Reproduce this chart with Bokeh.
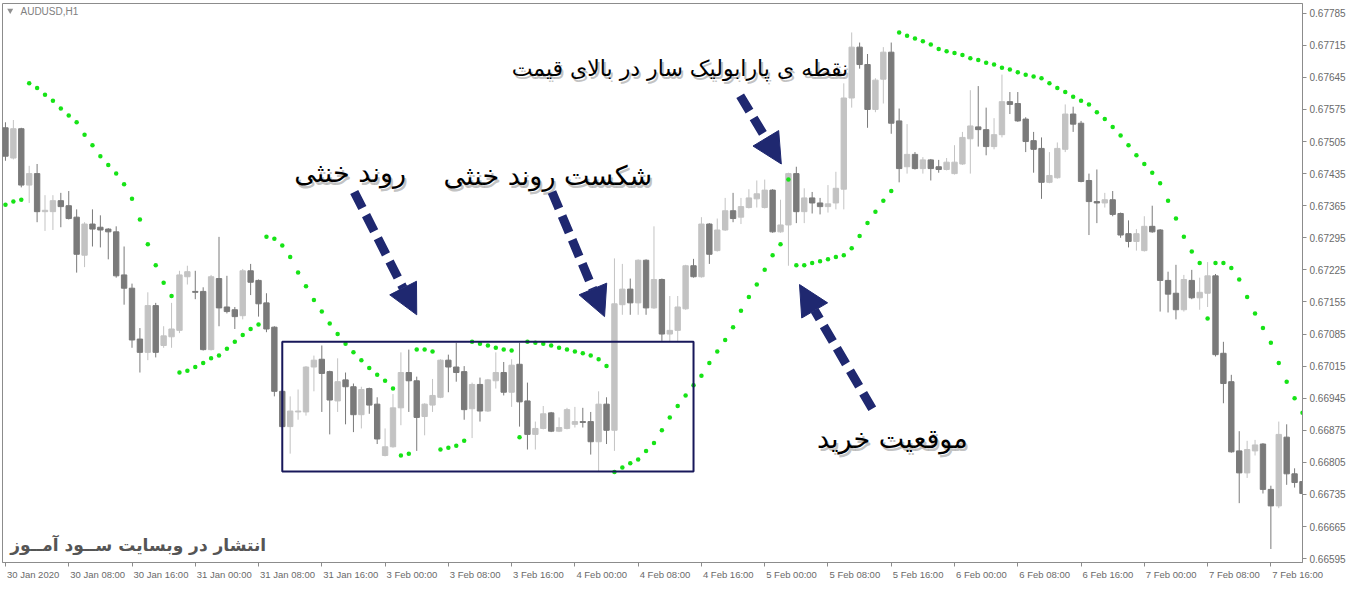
from bokeh.plotting import figure
from bokeh.models import (ColumnDataSource, Range1d, FixedTicker, NumeralTickFormatter,
                          Arrow, NormalHead, BoxAnnotation, LinearAxis)
from bokeh.embed import file_html
from bokeh.resources import INLINE
from bokeh.core.properties import value

# ---------------- data (AUDUSD, H1) ----------------
open_ = [
    0.67535, 0.67469, 0.67533, 0.67410, 0.67435, 0.67352, 0.67352, 0.67376, 0.67365, 0.67340,
    0.67257, 0.67325, 0.67318, 0.67314, 0.67308, 0.67214, 0.67185, 0.67074, 0.67045, 0.67147,
    0.67060, 0.67079, 0.67093, 0.67210, 0.67178, 0.67178, 0.67051, 0.67206, 0.67144, 0.67138,
    0.67125, 0.67223, 0.67202, 0.67153, 0.67100, 0.66960, 0.66883, 0.66915, 0.66915, 0.67013,
    0.67030, 0.67003, 0.66939, 0.66985, 0.66970, 0.66909, 0.66966, 0.66932, 0.66820, 0.66839,
    0.66924, 0.67001, 0.66983, 0.66905, 0.66930, 0.66947, 0.67028, 0.67013, 0.67003, 0.66922,
    0.66975, 0.66917, 0.66983, 0.67001, 0.66958, 0.67019, 0.66939, 0.66866, 0.66879, 0.66913,
    0.66873, 0.66879, 0.66888, 0.66894, 0.66894, 0.66850, 0.66932, 0.66875, 0.67149, 0.67183,
    0.67153, 0.67246, 0.67142, 0.67204, 0.67085, 0.67093, 0.67140, 0.67234, 0.67210, 0.67325,
    0.67267, 0.67312, 0.67354, 0.67340, 0.67361, 0.67380, 0.67361, 0.67399, 0.67308, 0.67323,
    0.67435, 0.67352, 0.67382, 0.67371, 0.67363, 0.67371, 0.67401, 0.67600, 0.67711, 0.67673,
    0.67575, 0.67641, 0.67700, 0.67550, 0.67450, 0.67477, 0.67446, 0.67465, 0.67450, 0.67444,
    0.67435, 0.67456, 0.67511, 0.67537, 0.67531, 0.67494, 0.67520, 0.67592, 0.67588, 0.67554,
    0.67507, 0.67490, 0.67416, 0.67426, 0.67488, 0.67565, 0.67545, 0.67420, 0.67374, 0.67371,
    0.67378, 0.67348, 0.67304, 0.67287, 0.67267, 0.67320, 0.67312, 0.67202, 0.67174, 0.67138,
    0.67202, 0.67164, 0.67174, 0.67212, 0.67043, 0.66981, 0.66830, 0.66782, 0.66830, 0.66845,
    0.66746, 0.66710, 0.66860, 0.66780, 0.66763,
]
high = [
    0.67547, 0.67552, 0.67535, 0.67452, 0.67456, 0.67388, 0.67388, 0.67393, 0.67397, 0.67357,
    0.67329, 0.67357, 0.67344, 0.67316, 0.67320, 0.67276, 0.67195, 0.67098, 0.67176, 0.67153,
    0.67102, 0.67153, 0.67223, 0.67234, 0.67223, 0.67187, 0.67214, 0.67297, 0.67212, 0.67144,
    0.67227, 0.67238, 0.67204, 0.67174, 0.67102, 0.66964, 0.66949, 0.66964, 0.67015, 0.67038,
    0.67060, 0.67005, 0.67032, 0.67001, 0.66977, 0.66970, 0.66968, 0.66947, 0.66879, 0.66954,
    0.67045, 0.67051, 0.66992, 0.66934, 0.66987, 0.67030, 0.67040, 0.67066, 0.67015, 0.66979,
    0.66990, 0.66987, 0.67045, 0.67024, 0.67030, 0.67066, 0.66979, 0.66894, 0.66928, 0.66915,
    0.66903, 0.66924, 0.66926, 0.66924, 0.66915, 0.66960, 0.66947, 0.67250, 0.67238, 0.67206,
    0.67248, 0.67248, 0.67320, 0.67206, 0.67168, 0.67168, 0.67236, 0.67249, 0.67340, 0.67327,
    0.67337, 0.67382, 0.67393, 0.67382, 0.67401, 0.67420, 0.67422, 0.67401, 0.67378, 0.67437,
    0.67450, 0.67403, 0.67395, 0.67382, 0.67410, 0.67439, 0.67632, 0.67743, 0.67721, 0.67696,
    0.67643, 0.67711, 0.67721, 0.67577, 0.67543, 0.67482, 0.67471, 0.67467, 0.67465, 0.67469,
    0.67497, 0.67526, 0.67617, 0.67626, 0.67579, 0.67556, 0.67651, 0.67613, 0.67613, 0.67558,
    0.67526, 0.67514, 0.67482, 0.67503, 0.67586, 0.67581, 0.67550, 0.67435, 0.67444, 0.67393,
    0.67397, 0.67350, 0.67333, 0.67314, 0.67342, 0.67365, 0.67314, 0.67221, 0.67236, 0.67214,
    0.67225, 0.67208, 0.67242, 0.67216, 0.67068, 0.66996, 0.66873, 0.66852, 0.66854, 0.66847,
    0.66754, 0.66894, 0.66888, 0.66792, 0.66809,
]
low = [
    0.67463, 0.67466, 0.67405, 0.67371, 0.67329, 0.67310, 0.67312, 0.67318, 0.67335, 0.67219,
    0.67231, 0.67276, 0.67274, 0.67248, 0.67208, 0.67149, 0.67055, 0.67001, 0.67028, 0.67034,
    0.67055, 0.67055, 0.67087, 0.67193, 0.67161, 0.67049, 0.67049, 0.67102, 0.67130, 0.67096,
    0.67117, 0.67170, 0.67123, 0.67089, 0.66949, 0.66879, 0.66824, 0.66898, 0.66907, 0.66960,
    0.66915, 0.66866, 0.66915, 0.66888, 0.66871, 0.66879, 0.66911, 0.66845, 0.66818, 0.66837,
    0.66886, 0.66915, 0.66830, 0.66864, 0.66915, 0.66945, 0.66958, 0.66981, 0.66898, 0.66858,
    0.66894, 0.66915, 0.66966, 0.66951, 0.66926, 0.66883, 0.66833, 0.66833, 0.66877, 0.66871,
    0.66871, 0.66877, 0.66881, 0.66881, 0.66822, 0.66784, 0.66845, 0.66830, 0.67127, 0.67127,
    0.67127, 0.67127, 0.67140, 0.67070, 0.67070, 0.67070, 0.67138, 0.67208, 0.67208, 0.67238,
    0.67265, 0.67310, 0.67329, 0.67325, 0.67359, 0.67361, 0.67359, 0.67306, 0.67306, 0.67234,
    0.67327, 0.67327, 0.67348, 0.67346, 0.67350, 0.67357, 0.67357, 0.67579, 0.67664, 0.67535,
    0.67569, 0.67588, 0.67522, 0.67416, 0.67435, 0.67444, 0.67435, 0.67420, 0.67437, 0.67442,
    0.67433, 0.67454, 0.67435, 0.67494, 0.67475, 0.67488, 0.67514, 0.67565, 0.67548, 0.67482,
    0.67437, 0.67380, 0.67414, 0.67424, 0.67482, 0.67526, 0.67416, 0.67301, 0.67327, 0.67361,
    0.67342, 0.67295, 0.67274, 0.67267, 0.67265, 0.67306, 0.67134, 0.67132, 0.67117, 0.67134,
    0.67161, 0.67138, 0.67144, 0.67036, 0.66934, 0.66826, 0.66716, 0.66771, 0.66820, 0.66737,
    0.66616, 0.66705, 0.66756, 0.66750, 0.66735,
]
close = [
    0.67473, 0.67533, 0.67410, 0.67435, 0.67352, 0.67355, 0.67376, 0.67363, 0.67337, 0.67259,
    0.67325, 0.67314, 0.67312, 0.67308, 0.67212, 0.67185, 0.67072, 0.67045, 0.67147, 0.67045,
    0.67081, 0.67096, 0.67214, 0.67221, 0.67176, 0.67051, 0.67210, 0.67142, 0.67134, 0.67123,
    0.67223, 0.67198, 0.67151, 0.67096, 0.66960, 0.66883, 0.66917, 0.66917, 0.67013, 0.67028,
    0.66999, 0.66941, 0.66981, 0.66970, 0.66909, 0.66964, 0.66930, 0.66856, 0.66839, 0.66924,
    0.67001, 0.66983, 0.66903, 0.66932, 0.66951, 0.67028, 0.67013, 0.67001, 0.66920, 0.66975,
    0.66917, 0.66985, 0.67001, 0.66958, 0.67017, 0.66937, 0.66866, 0.66879, 0.66911, 0.66873,
    0.66881, 0.66920, 0.66894, 0.66892, 0.66850, 0.66932, 0.66875, 0.67151, 0.67183, 0.67153,
    0.67246, 0.67142, 0.67204, 0.67085, 0.67093, 0.67144, 0.67234, 0.67210, 0.67325, 0.67259,
    0.67312, 0.67354, 0.67337, 0.67363, 0.67382, 0.67391, 0.67399, 0.67308, 0.67323, 0.67435,
    0.67352, 0.67382, 0.67371, 0.67363, 0.67369, 0.67403, 0.67600, 0.67711, 0.67673, 0.67575,
    0.67639, 0.67700, 0.67545, 0.67446, 0.67477, 0.67446, 0.67465, 0.67446, 0.67444, 0.67460,
    0.67460, 0.67514, 0.67539, 0.67531, 0.67494, 0.67520, 0.67592, 0.67586, 0.67550, 0.67505,
    0.67488, 0.67416, 0.67431, 0.67490, 0.67565, 0.67543, 0.67418, 0.67374, 0.67371, 0.67378,
    0.67346, 0.67301, 0.67287, 0.67304, 0.67320, 0.67308, 0.67202, 0.67172, 0.67138, 0.67204,
    0.67164, 0.67176, 0.67212, 0.67040, 0.66977, 0.66828, 0.66782, 0.66833, 0.66843, 0.66746,
    0.66710, 0.66866, 0.66780, 0.66761, 0.66737,
]
# Parabolic SAR value at each bar
sar = [
    0.67367, 0.67374, 0.67378, 0.67632, 0.67622, 0.67607, 0.67594, 0.67577, 0.67562, 0.67547,
    0.67520, 0.67497, 0.67473, 0.67454, 0.67435, 0.67412, 0.67380, 0.67335, 0.67281, 0.67235,
    0.67197, 0.67168, 0.67001, 0.67005, 0.67013, 0.67022, 0.67032, 0.67038, 0.67053, 0.67068,
    0.67083, 0.67096, 0.67106, 0.67297, 0.67293, 0.67278, 0.67253, 0.67219, 0.67189, 0.67159,
    0.67134, 0.67108, 0.67085, 0.67064, 0.67045, 0.67028, 0.67011, 0.66996, 0.66983, 0.66966,
    0.66820, 0.66824, 0.67051, 0.67051, 0.67047, 0.66833, 0.66837, 0.66841, 0.66852, 0.67068,
    0.67064, 0.67060, 0.67055, 0.67051, 0.67049, 0.66860, 0.67068, 0.67066, 0.67064, 0.67060,
    0.67055, 0.67051, 0.67047, 0.67043, 0.67038, 0.67030, 0.67015, 0.66784, 0.66794, 0.66803,
    0.66811, 0.66830, 0.66847, 0.66875, 0.66903, 0.66928, 0.66951, 0.66973, 0.66994, 0.67022,
    0.67047, 0.67072, 0.67100, 0.67136, 0.67166, 0.67193, 0.67225, 0.67257, 0.67281, 0.67422,
    0.67235, 0.67235, 0.67240, 0.67244, 0.67248, 0.67253, 0.67257, 0.67272, 0.67299, 0.67327,
    0.67352, 0.67376, 0.67397, 0.67743, 0.67736, 0.67730, 0.67724, 0.67717, 0.67707, 0.67702,
    0.67698, 0.67694, 0.67687, 0.67683, 0.67677, 0.67673, 0.67666, 0.67662, 0.67656, 0.67651,
    0.67647, 0.67643, 0.67632, 0.67622, 0.67613, 0.67603, 0.67594, 0.67586, 0.67569, 0.67554,
    0.67537, 0.67518, 0.67497, 0.67475, 0.67456, 0.67437, 0.67414, 0.67376, 0.67337, 0.67297,
    0.67265, 0.67240, 0.67119, 0.67240, 0.67240, 0.67229, 0.67204, 0.67166, 0.67130, 0.67098,
    0.67066, 0.67022, 0.66981, 0.66945, 0.66913,
]
time_labels = [
    "30 Jan 2020", "30 Jan 08:00", "30 Jan 16:00", "31 Jan 00:00", "31 Jan 08:00",
    "31 Jan 16:00", "3 Feb 00:00", "3 Feb 08:00", "3 Feb 16:00", "4 Feb 00:00",
    "4 Feb 08:00", "4 Feb 16:00", "5 Feb 00:00", "5 Feb 08:00", "5 Feb 16:00",
    "6 Feb 00:00", "6 Feb 08:00", "6 Feb 16:00", "7 Feb 00:00", "7 Feb 08:00", "7 Feb 16:00",
]
bars_per_label = 8
price_ticks = [
    0.66595, 0.66665, 0.66735, 0.66805, 0.66875, 0.66945, 0.67015, 0.67085, 0.67155,
    0.67225, 0.67295, 0.67365, 0.67435, 0.67505, 0.67575, 0.67645, 0.67715, 0.67785,
]

# annotation texts
txt_sar_above = "نقطه ی پارابولیک سار در بالای قیمت"
txt_range = "روند خنثی"
txt_breakout = "شکست روند خنثی"
txt_buy = "موقعیت خرید"
txt_watermark = "انتشار در وبسایت ســود آمــوز"
symbol_label = "AUDUSD,H1"

# ---------------- figure ----------------
DARK = "#7a7a7a"
LIGHT = "#c3c3c3"
NAVY = "#1f2870"
BOXC = "#18185a"
AXC = "#8c8c8c"
LABC = "#6a6a6a"
TIME_FONT_PX = 9.5

idx = list(range(len(open_)))
colors = [LIGHT if c >= o else DARK for o, c in zip(open_, close)]
src = ColumnDataSource(dict(
    x=idx, open=open_, close=close, high=high, low=low,
    top=[max(o, c) for o, c in zip(open_, close)],
    bottom=[min(o, c) for o, c in zip(open_, close)],
    color=colors,
))

X0, X1 = -0.375, 164.0
p = figure(width=1348, height=582,
           x_range=Range1d(X0, X1), y_range=Range1d(0.665865, 0.678062),
           y_axis_location="right", toolbar_location=None, output_backend="svg",
           min_border_left=2, min_border_top=3, min_border_right=0, min_border_bottom=0)
p.xgrid.visible = False
p.ygrid.visible = False
p.outline_line_color = AXC
p.background_fill_color = "white"
p.border_fill_color = "white"

p.segment(x0="x", y0="low", x1="x", y1="high", line_color="color", line_width=1, source=src)
p.vbar(x="x", width=0.68, top="top", bottom="bottom", fill_color="color",
       line_color="color", line_width=1, source=src)
p.scatter(x=idx, y=sar, size=4.5, marker="circle", fill_color="#16e316", line_color=None)

# axes: tick marks on the main x axis, MT4-style left-aligned labels on a 2nd axis
tick_idx = [bars_per_label * k for k in range(len(time_labels))]
xa = p.xaxis[0]
xa.ticker = FixedTicker(ticks=tick_idx)
xa.major_label_overrides = {t: "" for t in tick_idx}
xa.major_label_text_font_size = "0px"
xa.major_label_standoff = 0

# Arial/Liberation Sans advance widths (per 1000 em) to left-align centred labels
ADV = {" ": 278, ":": 278, "J": 500, "F": 611, "a": 556, "n": 556, "e": 556, "b": 556}
px_per_bar = (1348 - 2 - 46) / (X1 - X0)
def text_w(s):
    return sum(ADV.get(ch, 556) for ch in s) * TIME_FONT_PX / 1000.0
label_pos = [round(t + (text_w(s) / 2 + 1.5) / px_per_bar, 3) for t, s in zip(tick_idx, time_labels)]
xa2 = LinearAxis(ticker=FixedTicker(ticks=label_pos),
                 major_label_overrides={pos: s for pos, s in zip(label_pos, time_labels)})
xa2.axis_line_color = None
xa2.major_tick_line_color = None
xa2.major_tick_out = 0
xa2.major_tick_in = 0
xa2.minor_tick_out = 0
xa2.minor_tick_in = 0
xa2.major_label_standoff = 2
xa2.major_label_text_font = "Liberation Sans"
xa2.major_label_text_font_size = f"{TIME_FONT_PX}px"
xa2.major_label_text_color = LABC
p.add_layout(xa2, "below")

ya = p.yaxis[0]
ya.ticker = FixedTicker(ticks=price_ticks)
ya.formatter = NumeralTickFormatter(format="0.00000")
ya.major_label_text_font_size = "10px"
ya.major_label_standoff = 3
ya.major_label_text_color = LABC
ya.major_label_text_font = "Liberation Sans"
for ax in (xa, ya):
    ax.axis_line_color = AXC
    ax.major_tick_line_color = AXC
    ax.major_tick_out = 4
    ax.major_tick_in = 0
    ax.minor_tick_out = 0
    ax.minor_tick_in = 0

# range box
p.add_layout(BoxAnnotation(left=35.0, right=87.0, top=0.67068, bottom=0.66785,
                           fill_color=None, fill_alpha=0, line_color=BOXC,
                           line_alpha=1.0, line_width=2))

# dashed arrows
arrows = [
    (44.1, 0.67395, 52.0, 0.67127),
    (69.1, 0.67395, 75.75, 0.67123),
    (92.9, 0.67605, 98.1, 0.67456),
    (109.6, 0.66922, 100.4, 0.67193),
]
for xs, ys, xe, ye in arrows:
    p.add_layout(Arrow(x_start=xs, y_start=ys, x_end=xe, y_end=ye,
                       line_color=NAVY, line_width=9, line_dash="18 8",
                       end=NormalHead(size=30, fill_color=NAVY, line_color=NAVY)))

# texts (with soft shadow), anchored at their left edge
def label(x, y, t, size, color="black", bold=False, shadow=True):
    style = "bold" if bold else "normal"
    if shadow:
        p.text(x=[x], y=[y], text=[t], text_font=value("DejaVu Sans"), text_font_size=size,
               text_align="left", text_baseline="middle", text_color="#a8a8a8",
               text_alpha=0.7, x_offset=2, y_offset=3, text_font_style=style)
    p.text(x=[x], y=[y], text=[t], text_font=value("DejaVu Sans"), text_font_size=size,
           text_align="left", text_baseline="middle", text_color=color, text_font_style=style)

label(64.0, 0.67664, txt_sar_above, "22px")
label(36.5, 0.67437, txt_range, "27px")
label(55.4, 0.67431, txt_breakout, "27px")
label(102.6, 0.66858, txt_buy, "27px")
label(0.6, 0.66625, txt_watermark, "17px", color="#555555", bold=True, shadow=False)

p.text(x=[1.9], y=[0.67789], text=[symbol_label], text_font=value("Liberation Sans"),
       text_font_size="10px", text_align="left", text_baseline="middle", text_color="#808080")
p.scatter(x=[0.6], y=[0.67791], marker="inverted_triangle", size=6,
          fill_color="#909090", line_color=None)

open("out.html", "w").write(file_html(p, INLINE))
